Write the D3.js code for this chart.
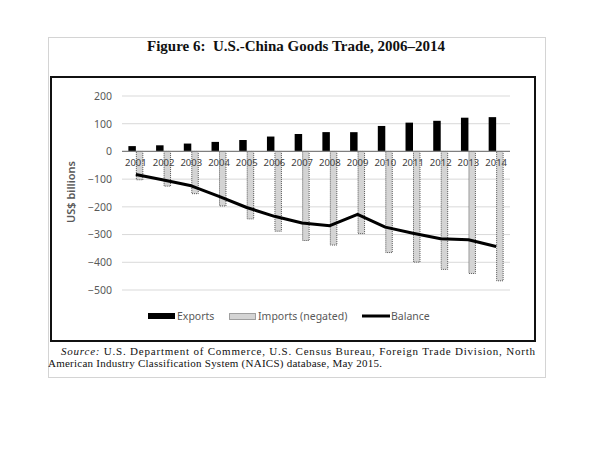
<!DOCTYPE html>
<html><head><meta charset="utf-8">
<script src="https://cdn.jsdelivr.net/npm/d3@7"></script>
<style>
html,body{margin:0;padding:0;background:#fff;}
svg{display:block;}
</style></head>
<body>
<svg id="chart" width="614" height="460"></svg>
<script>
const years = ["2001","2002","2003","2004","2005","2006","2007","2008","2009","2010","2011","2012","2013","2014"];
const exportsVals = [19.2, 22.1, 28.4, 34.4, 41.2, 53.7, 62.9, 69.7, 69.5, 91.9, 103.9, 110.5, 121.7, 123.7];
const importsVals = [102.3, 125.2, 152.4, 196.7, 243.5, 287.8, 321.4, 337.8, 296.4, 364.9, 399.4, 425.6, 440.4, 466.8];
const balanceVals = [-83.1, -103.1, -124.0, -162.3, -202.3, -234.1, -258.5, -268.0, -226.9, -273.0, -295.5, -315.1, -318.7, -343.1];
const yTicks = [-500, -400, -300, -200, -100, 0, 100, 200];
const seriesNames = ["Exports", "Imports (negated)", "Balance"];

const svg = d3.select("#chart");
const sans = "'Noto Sans', 'Open Sans', sans-serif";
const serif = "'Liberation Serif', 'DejaVu Serif', serif";

// outer light frame
svg.append("rect").attr("x",48.5).attr("y",37.5).attr("width",497).attr("height",340)
  .attr("fill","none").attr("stroke","#d4d4d4").attr("stroke-width",1);

// title
svg.append("text").attr("x",296).attr("y",51).attr("text-anchor","middle")
  .attr("font-family",serif).attr("font-weight","bold").attr("font-size",15)
  .attr("fill","#111").text("Figure 6:\u00a0 U.S.-China Goods Trade, 2006\u20132014");

// inner black box
svg.append("rect").attr("x",51).attr("y",77).attr("width",484).attr("height",264)
  .attr("fill","#fff").attr("stroke","#111").attr("stroke-width",2);

const x0 = d3.scaleBand().domain(years).range([122,510]).paddingInner(0.46).paddingOuter(0.23);
const x1 = d3.scaleBand().domain(["Exports","Imports"]).range([0, x0.bandwidth()]);
const y = d3.scaleLinear().domain([-500,200]).range([290,96]);

// gridlines
svg.append("g").selectAll("line").data(yTicks.filter(t=>t!==0)).join("line")
  .attr("x1",122).attr("x2",510).attr("y1",d=>y(d)).attr("y2",d=>y(d))
  .attr("stroke","#d9d9d9").attr("stroke-width",1);

// y axis labels
const yAxis = d3.axisLeft(y).tickValues(yTicks).tickSize(0).tickPadding(0);
const ga = svg.append("g").attr("transform","translate(112,0)").call(yAxis);
ga.select(".domain").remove();
ga.selectAll("text").attr("font-family",sans).attr("font-size",10.5).attr("fill","#595959");

// y title
svg.append("text").attr("transform","translate(75,192) rotate(-90)").attr("text-anchor","middle")
  .attr("font-family",sans).attr("font-size",11).attr("font-weight","600").attr("fill","#595959")
  .text("US$ billions");

// bars
const g = svg.append("g");
g.selectAll("rect.exp").data(years).join("rect").attr("class","exp")
  .attr("x",d=>x0(d)+x1("Exports")).attr("width",x1.bandwidth())
  .attr("y",(d,i)=>y(exportsVals[i])).attr("height",(d,i)=>y(0)-y(exportsVals[i]))
  .attr("fill","#000");
g.selectAll("rect.imp").data(years).join("rect").attr("class","imp")
  .attr("x",d=>x0(d)+x1("Imports")+0.5).attr("width",x1.bandwidth()-1)
  .attr("y",y(0)).attr("height",(d,i)=>y(-importsVals[i])-y(0))
  .attr("fill","#d4d4d4").attr("stroke","#555").attr("stroke-width",1).attr("stroke-dasharray","1,1");

// zero axis line
svg.append("line").attr("x1",122).attr("x2",510).attr("y1",y(0)).attr("y2",y(0))
  .attr("stroke","#7f7f7f").attr("stroke-width",1.2);

// category labels
const xAxis = d3.axisBottom(x0).tickSize(0).tickPadding(0);
const gx = svg.append("g").attr("transform",`translate(0,${y(0)+11})`).call(xAxis);
gx.select(".domain").remove();
gx.selectAll("text").attr("font-family",sans).attr("font-size",9.5).attr("fill","#404040").attr("dy","0.35em").attr("y",0);

// balance line
const line = d3.line().x((d,i)=>x0(years[i])+x0.bandwidth()/2).y(d=>y(d));
svg.append("path").datum(balanceVals).attr("d",line)
  .attr("fill","none").attr("stroke","#000").attr("stroke-width",3).attr("stroke-linejoin","round");

// legend
const ly = 316;
const leg = svg.append("g");
leg.append("rect").attr("x",148).attr("y",ly-3).attr("width",27).attr("height",6).attr("fill","#000");
leg.append("text").attr("x",177).attr("y",ly).attr("dy","0.35em").attr("font-family",sans).attr("font-size",10.5).attr("fill","#595959").text(seriesNames[0]);
leg.append("rect").attr("x",229.5).attr("y",ly-2.5).attr("width",26).attr("height",6).attr("fill","#d4d4d4")
  .attr("stroke","#555").attr("stroke-dasharray","1,1");
leg.append("text").attr("x",258).attr("y",ly).attr("dy","0.35em").attr("font-family",sans).attr("font-size",10.5).attr("fill","#595959").text(seriesNames[1]);
leg.append("line").attr("x1",362).attr("x2",390).attr("y1",ly).attr("y2",ly).attr("stroke","#000").attr("stroke-width",3);
leg.append("text").attr("x",391).attr("y",ly).attr("dy","0.35em").attr("font-family",sans).attr("font-size",10.5).attr("fill","#595959").text(seriesNames[2]);

// source note
const s1 = svg.append("text").attr("x",61).attr("y",355).attr("font-family",serif).attr("font-size",11).attr("fill","#111")
  .attr("textLength",474).attr("lengthAdjust","spacing");
s1.append("tspan").attr("font-style","italic").text("Source:");
s1.append("tspan").text(" U.S. Department of Commerce, U.S. Census Bureau, Foreign Trade Division, North");
svg.append("text").attr("x",48).attr("y",367).attr("font-family",serif).attr("font-size",11).attr("fill","#111")
  .attr("textLength",334).attr("lengthAdjust","spacing")
  .text("American Industry Classification System (NAICS) database, May 2015.");
</script>
</body></html>
